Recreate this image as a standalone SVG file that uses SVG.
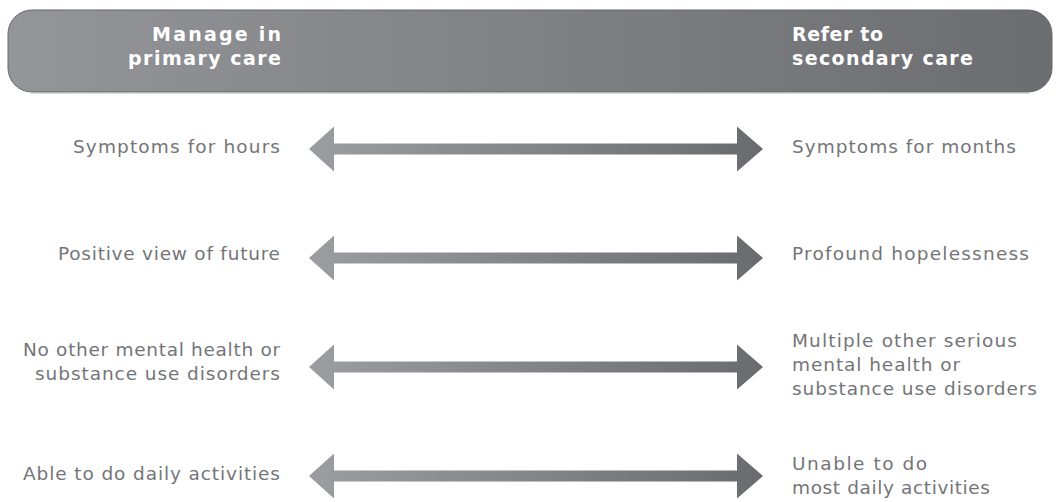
<svg xmlns="http://www.w3.org/2000/svg" width="1061" height="502" viewBox="0 0 1061 502">
  <defs>
    <linearGradient id="hdrGrad" gradientUnits="userSpaceOnUse" x1="8" y1="0" x2="1052" y2="0">
      <stop offset="0" stop-color="#949599"/>
      <stop offset="1" stop-color="#6c6d71"/>
    </linearGradient>
    <linearGradient id="arrGrad" gradientUnits="userSpaceOnUse" x1="309" y1="0" x2="763" y2="0">
      <stop offset="0" stop-color="#9c9da0"/>
      <stop offset="1" stop-color="#6a6b6e"/>
    </linearGradient>
    <style>
      .hdr { font-family: "DejaVu Sans", "Liberation Sans", sans-serif; font-weight: 700; font-size: 19px; fill: #ffffff; }
      .lbl { font-family: "DejaVu Sans", "Liberation Sans", sans-serif; font-weight: 400; font-size: 18.5px; fill: #747578; }
      .arrow { fill: url(#arrGrad); }
    </style>
  </defs>
  <rect width="1061" height="502" fill="#ffffff"/>

  <g id="header">
    <rect x="8" y="10" width="1044" height="82" rx="24" ry="24" fill="url(#hdrGrad)" stroke="#66676a" stroke-width="1"/>
    <line x1="30" y1="93.5" x2="1030" y2="93.5" stroke="#dcdddf" stroke-width="1"/>
    <g id="manage-primary">
      <text class="hdr" x="152" y="41" textLength="129" lengthAdjust="spacing">Manage in</text>
      <text class="hdr" x="128" y="65" textLength="153" lengthAdjust="spacing">primary care</text>
    </g>
    <g id="refer-secondary">
      <text class="hdr" x="792" y="41" textLength="91" lengthAdjust="spacing">Refer to</text>
      <text class="hdr" x="792" y="65" textLength="181" lengthAdjust="spacing">secondary care</text>
    </g>
  </g>

  <g id="connectors">
    <path class="arrow" d="M309,149 L334,126.5 L334,143.5 L737,143.5 L737,126.5 L763,149 L737,171.5 L737,154.5 L334,154.5 L334,171.5 Z"/>
    <path class="arrow" d="M309,258 L334,235.5 L334,252.5 L737,252.5 L737,235.5 L763,258 L737,280.5 L737,263.5 L334,263.5 L334,280.5 Z"/>
    <path class="arrow" d="M309,367 L334,344.5 L334,361.5 L737,361.5 L737,344.5 L763,367 L737,389.5 L737,372.5 L334,372.5 L334,389.5 Z"/>
    <path class="arrow" d="M309,476 L334,453.5 L334,470.5 L737,470.5 L737,453.5 L763,476 L737,498.5 L737,481.5 L334,481.5 L334,498.5 Z"/>
  </g>

  <g id="left-hours">
    <text class="lbl" x="73" y="153" textLength="207" lengthAdjust="spacing">Symptoms for hours</text>
  </g>
  <g id="right-months">
    <text class="lbl" x="792" y="153" textLength="224" lengthAdjust="spacing">Symptoms for months</text>
  </g>

  <g id="left-positive">
    <text class="lbl" x="58" y="260" textLength="222" lengthAdjust="spacing">Positive view of future</text>
  </g>
  <g id="right-hopeless">
    <text class="lbl" x="792" y="260" textLength="237" lengthAdjust="spacing">Profound hopelessness</text>
  </g>

  <g id="left-no-other">
    <text class="lbl" x="23" y="356" textLength="257" lengthAdjust="spacing">No other mental health or</text>
    <text class="lbl" x="35" y="380" textLength="245" lengthAdjust="spacing">substance use disorders</text>
  </g>
  <g id="right-multiple">
    <text class="lbl" x="792" y="347" textLength="225" lengthAdjust="spacing">Multiple other serious</text>
    <text class="lbl" x="792" y="371" textLength="168" lengthAdjust="spacing">mental health or</text>
    <text class="lbl" x="792" y="395" textLength="245" lengthAdjust="spacing">substance use disorders</text>
  </g>

  <g id="left-able">
    <text class="lbl" x="23" y="480" textLength="257" lengthAdjust="spacing">Able to do daily activities</text>
  </g>
  <g id="right-unable">
    <text class="lbl" x="792" y="470" textLength="135" lengthAdjust="spacing">Unable to do</text>
    <text class="lbl" x="792" y="494" textLength="198" lengthAdjust="spacing">most daily activities</text>
  </g>
</svg>
